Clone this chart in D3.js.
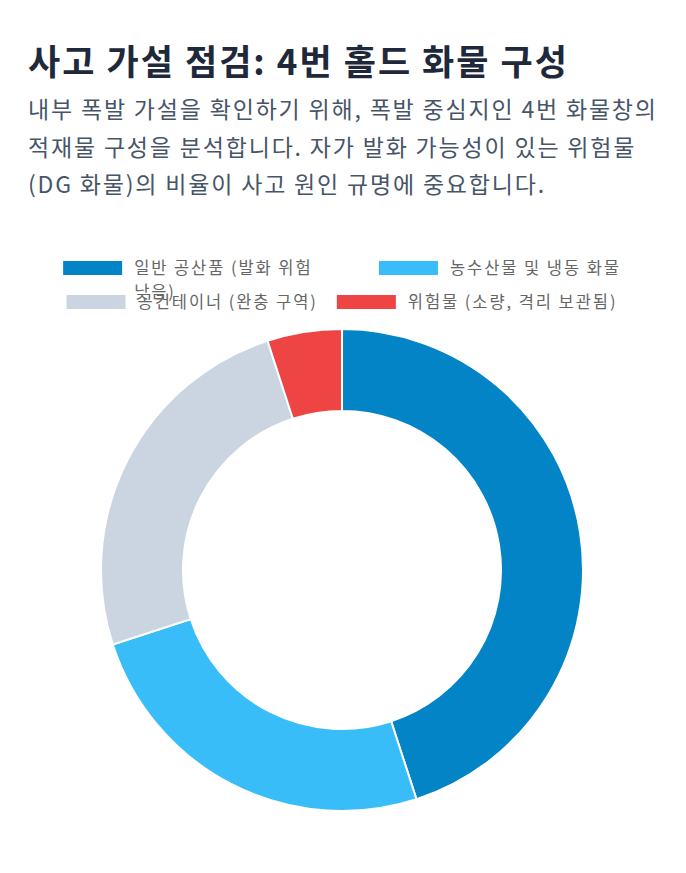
<!DOCTYPE html>
<html><head><meta charset="utf-8">
<script src="https://cdn.jsdelivr.net/npm/d3@7"></script>
<style>
html,body{margin:0;padding:0;background:#fff;}
svg{display:block;}
</style></head>
<body>
<svg id="c" width="686" height="873"></svg>
<script>
const categories = ["일반 공산품 (발화 위험 낮음)", "농수산물 및 냉동 화물", "공컨테이너 (완충 구역)", "위험물 (소량, 격리 보관됨)"];
const values = [45, 25, 25, 5];
const colors = ["#0284c7", "#38bdf8", "#cbd5e1", "#ef4444"];
const titleText = "사고 가설 점검: 4번 홀드 화물 구성";
const subtitleLines = [
  "내부 폭발 가설을 확인하기 위해, 폭발 중심지인 4번 화물창의",
  "적재물 구성을 분석합니다. 자가 발화 가능성이 있는 위험물",
  "(DG 화물)의 비율이 사고 원인 규명에 중요합니다."
];

const svg = d3.select("#c");
const FONT = "'Noto Sans CJK KR', 'Noto Sans', sans-serif";

function natW(t, fs, fw){
  const tmp = svg.append("text").attr("font-family", FONT).attr("font-size", fs)
    .attr("font-weight", fw || 400).text(t);
  const w = tmp.node().getComputedTextLength(); tmp.remove(); return w;
}
// spacing that makes a reference string span the width seen in the picture
function fitLS(t, fs, fw, target){ return (target - natW(t, fs, fw)) / (t.length - 1); }

const titleFS = 35, titleLS = fitLS(titleText, titleFS, 700, 539);
svg.append("text").attr("x", 28).attr("y", 75)
  .attr("font-family", FONT).attr("font-weight", 700).attr("font-size", titleFS)
  .attr("letter-spacing", titleLS)
  .attr("fill", "#1e293b").text(titleText);

const subFS = 23, subLS = fitLS(subtitleLines[0], subFS, 400, 628);
svg.selectAll("text.sub").data(subtitleLines).join("text").attr("class","sub")
  .attr("x", 28).attr("y", (d,i) => 118 + i*37.5)
  .attr("font-family", FONT).attr("font-size", subFS).attr("letter-spacing", subLS)
  .attr("fill", "#475569").text(d => d);

// Legend
const boxW = 59, boxH = 14, gapT = 12, pad = 19, legFS = 16.5;
const legLS = fitLS(categories[1], legFS, 400, 169);
const rows = [[0,1],[2,3]];
const rowY = [268, 302];
const wrapW = 212;
const lg = svg.append("g");
function measure(t){ return natW(t, legFS, 400) + legLS * t.length; }
rows.forEach((row, ri) => {
  const items = row.map(i => {
    const full = measure(categories[i]);
    let lines = [categories[i]];
    if (full > wrapW) {
      const words = categories[i].split(" ");
      lines = []; let cur = "";
      words.forEach(w => {
        const test = cur ? cur + " " + w : w;
        if (measure(test) > wrapW - 30 && cur) { lines.push(cur); cur = w; } else cur = test;
      });
      lines.push(cur);
    }
    return {i, lines, w: boxW + gapT + full};
  });
  const total = d3.sum(items, d => d.w) + pad*(items.length-1);
  let x = 342 - total/2;
  items.forEach(it => {
    const g = lg.append("g").attr("transform", `translate(${x},${rowY[ri]})`);
    g.append("rect").attr("x", 0).attr("y", -boxH/2).attr("width", boxW).attr("height", boxH)
      .attr("fill", colors[it.i]);
    it.lines.forEach((ln, li) => {
      g.append("text").attr("x", boxW + gapT).attr("y", li*24 - 1)
        .attr("dominant-baseline", "central")
        .attr("font-family", FONT).attr("font-size", legFS).attr("letter-spacing", legLS)
        .attr("fill", "#666").text(ln);
    });
    x += it.w + pad;
  });
});

// Donut
const cx = 342, cy = 570, rOut = 241, rIn = 159;
const pie = d3.pie().sort(null).value(d => d)(values);
const arc = d3.arc().innerRadius(rIn).outerRadius(rOut);
svg.append("g").attr("transform", `translate(${cx},${cy})`)
  .selectAll("path").data(pie).join("path")
  .attr("d", arc).attr("fill", (d,i) => colors[i])
  .attr("stroke", "#fff").attr("stroke-width", 2);
</script>
</body></html>
